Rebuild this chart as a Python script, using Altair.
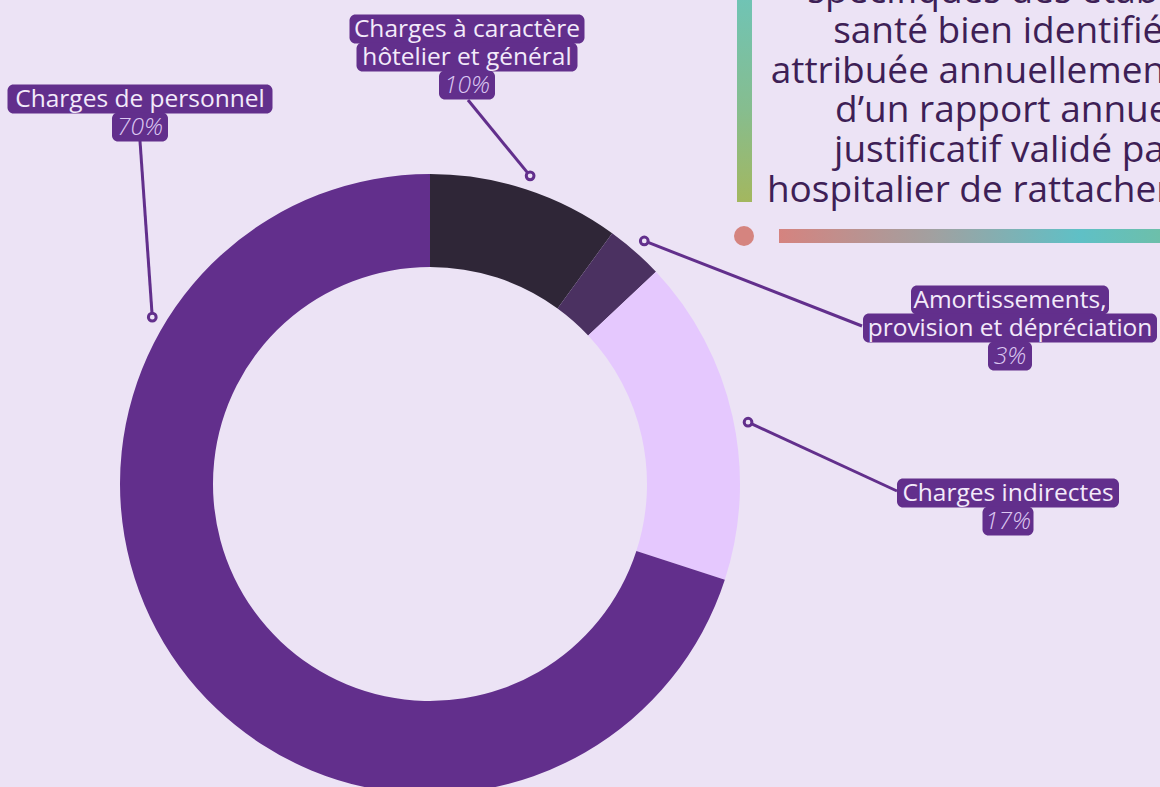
import math
import altair as alt
import pandas as pd

# ---------------- data ----------------
categories = [
    "Charges à caractère hôtelier et général",
    "Amortissements, provision et dépréciation",
    "Charges indirectes",
    "Charges de personnel",
]
shares = [10, 3, 17, 70]
label_lines = [
    ["Charges à caractère", "hôtelier et général"],
    ["Amortissements,", "provision et dépréciation"],
    ["Charges indirectes"],
    ["Charges de personnel"],
]
pct_labels = ["10%", "3%", "17%", "70%"]
slice_colors = ["#2f2637", "#4b3161", "#e5c8fe", "#622f8c"]

side_text_lines = [
    "spécifiques des établis-",
    "santé bien identifiés",
    "attribuée annuellement sur",
    "d’un rapport annuel",
    "justificatif validé par",
    "hospitalier de rattachement",
]

# ---------------- layout / style ----------------
W, H = 1160, 787
CX, CY = 430, 484
R_OUT, R_IN = 310, 217
R_DOT = 324
BG = "#ece3f5"
PURPLE = "#622f8c"
TEXT_LIGHT = "#f3eafa"
PCT_LIGHT = "#dcc8f2"
FONT = "Open Sans"
LABEL_SIZE = 24.5
LINE_H = 28
BOX_H = 29

label_layout = [
    dict(cx=467, cy0=29, widths=[235, 221, 56], end=(468, 100)),
    dict(cx=1010, cy0=300, widths=[198, 294, 44], end=(862, 326)),
    dict(cx=1008, cy0=493, widths=[222, 51], end=(897, 491)),
    dict(cx=140, cy0=99, widths=[265, 56], end=(140, 141)),
]
dot_angle_override = {2: 79.0, 3: 301.0}

SIDE_CX = 1007
SIDE_BASE0 = 3
SIDE_LINE_H = 39.8
SIDE_SIZE = 37
SIDE_COLOR = "#3e1f56"

vbar = dict(x=737, x2=752, y=-5, y2=202)
hbar = dict(x=779, x2=1160, y=229, y2=243)
hdot = dict(x=744, y=236)

# ---------------- derived tables ----------------
slices = pd.DataFrame({
    "category": categories,
    "value": shares,
    "idx": list(range(len(categories))),
})

dots, rules, boxes, texts = [], [], [], []
cum = 0.0
for i, v in enumerate(shares):
    mid = (cum + v / 2) / sum(shares) * 360
    cum += v
    ang = math.radians(dot_angle_override.get(i, mid))
    dx = CX + R_DOT * math.sin(ang)
    dy = CY - R_DOT * math.cos(ang)
    lay = label_layout[i]
    dots.append(dict(x=dx, y=dy))
    rules.append(dict(x=dx, y=dy, x2=lay["end"][0], y2=lay["end"][1]))
    lines = label_lines[i] + [pct_labels[i]]
    for j, t in enumerate(lines):
        cy = lay["cy0"] + j * LINE_H
        w = lay["widths"][j]
        boxes.append(dict(x=lay["cx"] - w / 2, x2=lay["cx"] + w / 2,
                          y=cy - BOX_H / 2, y2=cy + BOX_H / 2))
        texts.append(dict(x=lay["cx"], y=cy, text=t,
                          pct=(j == len(lines) - 1)))

dots = pd.DataFrame(dots)
rules = pd.DataFrame(rules)
boxes = pd.DataFrame(boxes)
texts = pd.DataFrame(texts)
side = pd.DataFrame({
    "text": side_text_lines,
    "y": [SIDE_BASE0 + k * SIDE_LINE_H for k in range(len(side_text_lines))],
    "x": [SIDE_CX] * len(side_text_lines),
})


def X(f):
    return alt.X(f"{f}:Q", scale=None, axis=None)


def Y(f):
    return alt.Y(f"{f}:Q", scale=None, axis=None)


# ---------------- layers ----------------
vgrad = alt.Gradient(
    gradient="linear",
    stops=[alt.GradientStop(color="#6fc4b6", offset=0),
           alt.GradientStop(color="#86bd8f", offset=0.55),
           alt.GradientStop(color="#a3b75f", offset=1)],
    x1=0, x2=0, y1=0, y2=1,
)
hgrad = alt.Gradient(
    gradient="linear",
    stops=[alt.GradientStop(color="#d5837f", offset=0),
           alt.GradientStop(color="#a2a0a0", offset=0.4),
           alt.GradientStop(color="#5fc0c6", offset=0.79),
           alt.GradientStop(color="#6dbfaa", offset=1)],
    x1=0, x2=1, y1=0, y2=0,
)

vbar_layer = alt.Chart(pd.DataFrame([vbar])).mark_rect(color=vgrad).encode(
    x=X("x"), x2="x2", y=Y("y"), y2="y2")
hbar_layer = alt.Chart(pd.DataFrame([hbar])).mark_rect(color=hgrad).encode(
    x=X("x"), x2="x2", y=Y("y"), y2="y2")
hdot_layer = alt.Chart(pd.DataFrame([hdot])).mark_circle(
    color="#d5847f", opacity=1, size=400).encode(x=X("x"), y=Y("y"))

side_layer = alt.Chart(side).mark_text(
    font=FONT, fontSize=SIDE_SIZE, color=SIDE_COLOR, align="center",
    baseline="alphabetic").encode(x=X("x"), y=Y("y"), text="text:N")

donut = alt.Chart(slices).mark_arc(
    innerRadius=R_IN, outerRadius=R_OUT).encode(
    theta=alt.Theta("value:Q", stack=True),
    order=alt.Order("idx:Q"),
    color=alt.Color("category:N", legend=None,
                    scale=alt.Scale(domain=categories, range=slice_colors)),
    x=alt.value(CX), y=alt.value(CY),
)

rule_layer = alt.Chart(rules).mark_rule(color=PURPLE, strokeWidth=3).encode(
    x=X("x"), y=Y("y"), x2="x2", y2="y2")
dot_layer = alt.Chart(dots).mark_point(
    shape="circle", filled=True, fill=BG, stroke=PURPLE, strokeWidth=3,
    size=60, opacity=1).encode(x=X("x"), y=Y("y"))

box_layer = alt.Chart(boxes).mark_rect(color=PURPLE, cornerRadius=6).encode(
    x=X("x"), x2="x2", y=Y("y"), y2="y2")

name_layer = alt.Chart(texts).transform_filter("!datum.pct").mark_text(
    font=FONT, fontSize=LABEL_SIZE, color=TEXT_LIGHT, align="center",
    baseline="middle", dy=1).encode(x=X("x"), y=Y("y"), text="text:N")
pct_layer = alt.Chart(texts).transform_filter("datum.pct").mark_text(
    font=FONT, fontSize=LABEL_SIZE, fontStyle="italic", fontWeight=300,
    color=PCT_LIGHT, align="center", baseline="middle", dy=1).encode(
    x=X("x"), y=Y("y"), text="text:N")

chart = alt.layer(
    vbar_layer, hbar_layer, hdot_layer, side_layer, donut,
    rule_layer, dot_layer, box_layer, name_layer, pct_layer,
).properties(
    width=W, height=H, background=BG, padding=0,
    autosize=alt.AutoSizeParams(type="none"),
).configure_view(stroke=None)

chart.save("out.html", embed_options={"renderer": "svg", "actions": False})
